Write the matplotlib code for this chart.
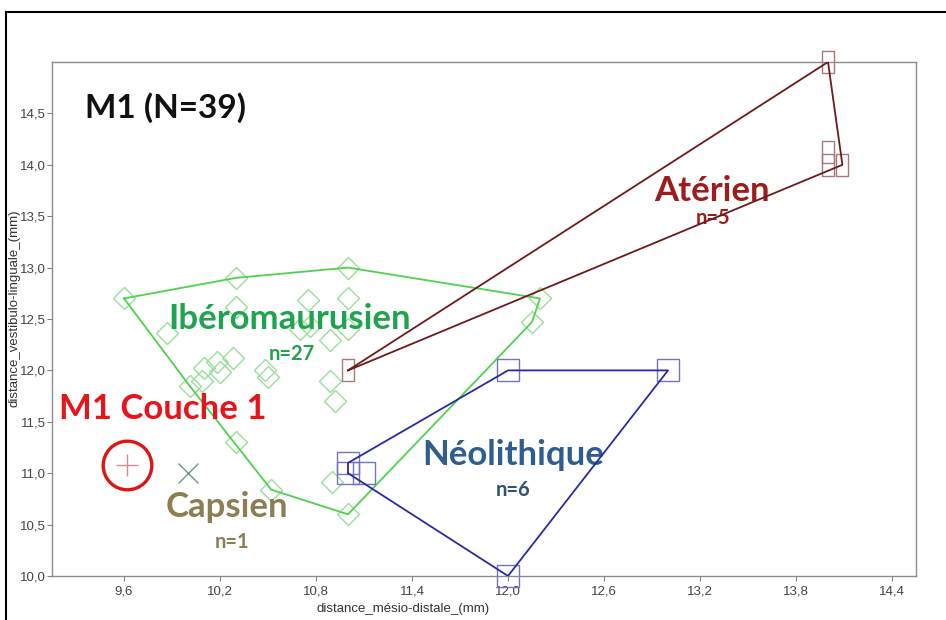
import matplotlib
matplotlib.use("Agg")
import matplotlib.pyplot as plt
from matplotlib.path import Path
from matplotlib.lines import Line2D
import numpy as np

# ---------------- data ----------------
ibero_x = [9.6, 9.87, 10.3, 10.3, 10.75, 11.0, 11.0, 10.7, 10.89, 11.0,
           10.1, 10.18, 10.28, 10.2, 10.09, 10.48, 10.5, 10.89, 10.92,
           12.2, 12.15, 10.3, 10.52, 10.9, 11.0, 10.01, 10.76]
ibero_y = [12.7, 12.36, 12.9, 12.62, 12.68, 13.0, 12.7, 12.4, 12.3, 12.4,
           12.02, 12.08, 12.12, 11.98, 11.9, 12.0, 11.94, 11.9, 11.7,
           12.7, 12.47, 11.3, 10.84, 10.91, 10.6, 11.85, 12.43]

aterien_x = [11.0, 14.0, 14.0, 14.0, 14.09]
aterien_y = [12.0, 15.0, 14.12, 14.0, 14.0]

neo_x = [11.0, 11.0, 11.1, 12.0, 13.0, 12.0]
neo_y = [11.1, 11.0, 11.0, 12.0, 12.0, 10.0]

capsien_x = [10.0]
capsien_y = [11.0]

couche1_x = [9.62]
couche1_y = [11.08]

xticks = [9.6, 10.2, 10.8, 11.4, 12.0, 12.6, 13.2, 13.8, 14.4]
yticks = [10.0, 10.5, 11.0, 11.5, 12.0, 12.5, 13.0, 13.5, 14.0, 14.5]


def hull(xs, ys):
    pts = sorted(set(zip(xs, ys)))
    if len(pts) < 3:
        return pts

    def cross(o, a, b):
        return (a[0] - o[0]) * (b[1] - o[1]) - (a[1] - o[1]) * (b[0] - o[0])
    lower = []
    for p in pts:
        while len(lower) >= 2 and cross(lower[-2], lower[-1], p) <= 0:
            lower.pop()
        lower.append(p)
    upper = []
    for p in reversed(pts):
        while len(upper) >= 2 and cross(upper[-2], upper[-1], p) <= 0:
            upper.pop()
        upper.append(p)
    h = lower[:-1] + upper[:-1]
    return h + [h[0]]


fig = plt.figure(figsize=(9.46, 6.20), dpi=100)
ax = fig.add_axes([52 / 946, 44 / 620, 864 / 946, 514 / 620])
ax.set_xlim(9.15, 14.55)
ax.set_ylim(10.0, 15.0)

tick_font = ['Liberation Sans Narrow', 'Liberation Sans', 'DejaVu Sans']
ax.set_xticks(xticks)
ax.set_yticks(yticks)
ax.set_xticklabels([f"{v:.1f}".replace('.', ',') for v in xticks],
                   fontsize=9.5, color='#444444', family=tick_font)
ax.set_yticklabels([f"{v:.1f}".replace('.', ',') for v in yticks],
                   fontsize=9.5, color='#444444', family=tick_font)
ax.tick_params(length=3.5, width=0.8, color='#808080', pad=1)
ax.tick_params(axis='x', pad=3)
for s in ax.spines.values():
    s.set_color('#8c8c8c')
    s.set_linewidth(1.0)

ax.set_xlabel("distance_mésio-distale_(mm)", fontsize=9.5, color='#333333',
              family=tick_font)
ax.xaxis.set_label_coords((403 - 52) / 864, -0.053)
ax.set_ylabel("distance_vestibulo-linguale_(mm)", fontsize=9.5, color='#333333',
              family=tick_font)
ax.yaxis.set_label_coords(-0.037, 0.52)

# Ibéromaurusien
hx, hy = zip(*hull(ibero_x, ibero_y))
ax.plot(hx, hy, color='#4fd14f', lw=1.3, zorder=3)
ax.plot(ibero_x, ibero_y, ls='none', marker='D', ms=11, mfc='none',
        mec='#9ade9a', mew=1.0, zorder=2, clip_on=False)

# Atérien
rect = Path([(-0.27, -0.5), (0.27, -0.5), (0.27, 0.5), (-0.27, 0.5), (-0.27, -0.5)],
            [Path.MOVETO, Path.LINETO, Path.LINETO, Path.LINETO, Path.CLOSEPOLY])
hx, hy = zip(*hull(aterien_x, aterien_y))
ax.plot(hx, hy, color='#6e1a1a', lw=1.3, zorder=4)
ax.plot(aterien_x, aterien_y, ls='none', marker=rect, ms=16, mfc='none',
        mec='#a87878', mew=1.0, zorder=3, clip_on=False)

# Néolithique
hx, hy = zip(*hull(neo_x, neo_y))
ax.plot(hx, hy, color='#2a2aa6', lw=1.3, zorder=4)
ax.plot(neo_x, neo_y, ls='none', marker='s', ms=16.5, mfc='none',
        mec='#7474bc', mew=1.0, zorder=3, clip_on=False)

# Capsien
ax.plot(capsien_x, capsien_y, ls='none', marker='x', ms=15, mec='#6f9c86',
        mew=1.0, zorder=3)

# M1 Couche 1
ax.plot(couche1_x, couche1_y, ls='none', marker='o', ms=35, mfc='none',
        mec='#dd1515', mew=2.4, zorder=3)
ax.plot(couche1_x, couche1_y, ls='none', marker='+', ms=16, mec='#d88a8a',
        mew=1.0, zorder=3)

lab = ['Lato', 'DejaVu Sans']
big = 25
small = 14.5
ax.text(9.356, 14.553, "M1 (N=39)", fontsize=24, fontweight='bold', family=lab,
        color='#111111', ha='left', va='center')
ax.text(13.275, 13.745, "Atérien", fontsize=big, fontweight='bold', family=lab,
        color='#9e1c1c', ha='center', va='center')
ax.text(13.28, 13.48, "n=5", fontsize=small, fontweight='bold', family=lab,
        color='#9e1c1c', ha='center', va='center')
ax.text(10.6375, 12.5, "Ibéromaurusien", fontsize=big, fontweight='bold', family=lab,
        color='#1ea44f', ha='center', va='center')
ax.text(10.65, 12.16, "n=27", fontsize=small, fontweight='bold', family=lab,
        color='#1ea44f', ha='center', va='center')
ax.text(9.844, 11.62, "M1 Couche 1", fontsize=big, fontweight='bold', family=lab,
        color='#e8141c', ha='center', va='center')
ax.text(10.244, 10.67, "Capsien", fontsize=big, fontweight='bold', family=lab,
        color='#8a7e52', ha='center', va='center')
ax.text(10.275, 10.33, "n=1", fontsize=small, fontweight='bold', family=lab,
        color='#8a7e52', ha='center', va='center')
ax.text(12.03, 11.18, "Néolithique", fontsize=big, fontweight='bold', family=lab,
        color='#2f5d8e', ha='center', va='center')
ax.text(12.03, 10.84, "n=6", fontsize=small, fontweight='bold', family=lab,
        color='#2f4f7e', ha='center', va='center')

# outer black frame (partially visible)
fig.add_artist(Line2D([6 / 946, 6 / 946], [0, 1 - 12 / 620], color='black', lw=1.5,
                      transform=fig.transFigure))
fig.add_artist(Line2D([6 / 946, 1], [1 - 12 / 620, 1 - 12 / 620], color='black', lw=1.5,
                      transform=fig.transFigure))

fig.savefig("out.png", dpi=100)
